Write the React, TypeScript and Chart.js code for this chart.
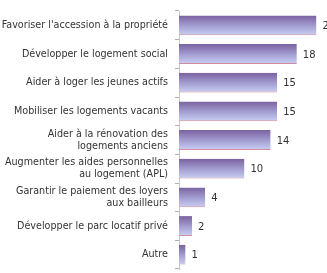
import React, { useEffect, useRef } from "react";
import { Chart, registerables } from "chart.js";

Chart.register(...registerables);

const categories: (string | string[])[] = [
  "Favoriser l'accession à la propriété",
  "Développer le logement social",
  "Aider à loger les jeunes actifs",
  "Mobiliser les logements vacants",
  ["Aider à la rénovation des", "logements anciens"],
  ["Augmenter les aides personnelles", "au logement (APL)"],
  ["Garantir le paiement des loyers", "aux bailleurs"],
  "Développer le parc locatif privé",
  "Autre",
];
const values = [21, 18, 15, 15, 14, 10, 4, 2, 1];

const FONT = "'DejaVu Sans', Verdana, sans-serif";
const BAR_PCT = 0.69;

const valueLabels = {
  id: "valueLabels",
  afterDatasetsDraw(chart: any) {
    const c = chart.ctx;
    const meta = chart.getDatasetMeta(0);
    c.save();
    c.font = `10px ${FONT}`;
    c.fillStyle = "#333333";
    c.textAlign = "left";
    c.textBaseline = "middle";
    meta.data.forEach((bar: any, i: number) => {
      c.fillText(String(values[i]), bar.x + 6, bar.y + 1);
    });
    c.restore();
  },
};

export default function App() {
  const ref = useRef<HTMLCanvasElement | null>(null);
  useEffect(() => {
    if (!ref.current) return;
    const chart = new Chart(ref.current, {
      type: "bar",
      data: {
        labels: categories,
        datasets: [
          {
            data: values,
            backgroundColor: (ctx: any) => {
              const chart = ctx.chart;
              const ys = chart.scales?.y;
              if (!chart.chartArea || !ys || ctx.type !== "data") return "#a09ad0";
              const y = ys.getPixelForValue(ctx.dataIndex);
              const h = (ys.height / categories.length) * BAR_PCT;
              const g = chart.ctx.createLinearGradient(0, y - h / 2, 0, y + h / 2);
              g.addColorStop(0, "#7a62a0");
              g.addColorStop(0.5, "#a29bcf");
              g.addColorStop(1, "#c8d0f4");
              return g;
            },
            borderColor: "#d48a9c",
            borderWidth: { top: 0, right: 0, bottom: 1, left: 0 },
            borderSkipped: false,
            categoryPercentage: 1,
            barPercentage: BAR_PCT,
          },
        ],
      },
      options: {
        indexAxis: "y",
        animation: false,
        responsive: true,
        maintainAspectRatio: false,
        layout: { padding: { top: 0, bottom: 0, left: 0, right: 4 } },
        plugins: {
          legend: { display: false },
          tooltip: { enabled: false },
        },
        scales: {
          x: {
            display: false,
            min: 0,
            max: 22,
          },
          y: {
            afterFit: (s: any) => {
              s.width = 179;
            },
            grid: {
              offset: true,
              drawOnChartArea: false,
              drawTicks: true,
              tickLength: 4,
              color: "#b0b0b0",
            },
            border: { display: true, color: "#c8c8c8" },
            ticks: {
              padding: 7,
              color: "#333333",
              font: { family: FONT, size: 9.6, lineHeight: 1.25 },
            },
          },
        },
      },
      plugins: [valueLabels],
    });
    return () => chart.destroy();
  }, []);
  return (
    <div style={{ position: "fixed", left: 0, top: -2, width: 327, height: 284 }}>
      <canvas ref={ref} />
    </div>
  );
}
